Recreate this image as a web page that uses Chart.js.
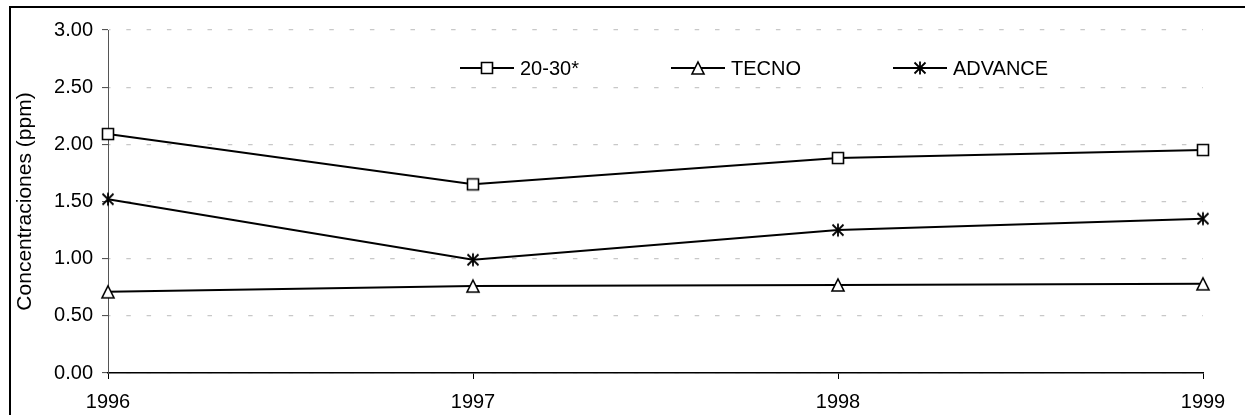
<!DOCTYPE html>
<html>
<head>
<meta charset="utf-8">
<script src="https://cdn.jsdelivr.net/npm/chart.js@4/dist/chart.umd.min.js"></script>
<style>
  html, body { margin: 0; padding: 0; background: #fff; }
  #wrap { position: relative; width: 1245px; height: 415px; overflow: hidden; }
  #frame { position: absolute; left: 9px; top: 6px; width: 1300px; height: 500px;
           border-left: 2px solid #000; border-top: 2px solid #000; pointer-events: none; }
  #legend { position: absolute; left: 460px; top: 57px; display: flex; align-items: center;
            font-family: 'Liberation Sans', Arial, sans-serif; font-size: 20px; color: #000;
            line-height: 22px; white-space: nowrap; }
  #legend .item { display: flex; align-items: center; margin-right: 92px; }
  #legend img { display: block; width: 54px; height: 16px; margin-right: 6px; }
</style>
</head>
<body>
<div id="wrap">
  <canvas id="c" width="1245" height="415"></canvas>
  <div id="legend"></div>
  <div id="frame"></div>
</div>
<script>
// ---- data ----
const years = ['1996', '1997', '1998', '1999'];
const series2030 = [2.09, 1.65, 1.88, 1.95];
const seriesTecno = [0.71, 0.76, 0.77, 0.78];
const seriesAdvance = [1.52, 0.99, 1.25, 1.35];
const seriesNames = ['20-30*', 'TECNO', 'ADVANCE'];
const yTicks = [0, 0.5, 1, 1.5, 2, 2.5, 3];
const yTitle = 'Concentraciones (ppm)';

// ---- marker drawing ----
function drawMarker(ctx, kind, cx, cy) {
  ctx.strokeStyle = '#000';
  ctx.fillStyle = '#fff';
  ctx.lineWidth = 1.6;
  ctx.beginPath();
  if (kind === 'square') {
    ctx.rect(cx - 5.5, cy - 5.5, 11, 11);
    ctx.fill(); ctx.stroke();
  } else if (kind === 'triangle') {
    ctx.moveTo(cx, cy - 6);
    ctx.lineTo(cx + 6, cy + 6);
    ctx.lineTo(cx - 6, cy + 6);
    ctx.closePath();
    ctx.fill(); ctx.stroke();
  } else {
    ctx.lineWidth = 1.8;
    ctx.moveTo(cx - 5.5, cy - 5.5); ctx.lineTo(cx + 5.5, cy + 5.5);
    ctx.moveTo(cx + 5.5, cy - 5.5); ctx.lineTo(cx - 5.5, cy + 5.5);
    ctx.moveTo(cx, cy - 6.5); ctx.lineTo(cx, cy + 6.5);
    ctx.stroke();
  }
}
function markerCanvas(kind) {
  const c = document.createElement('canvas');
  c.width = 16; c.height = 16;
  drawMarker(c.getContext('2d'), kind, 8, 8);
  return c;
}
function legendCanvas(kind) {
  const c = document.createElement('canvas');
  c.width = 54; c.height = 16;
  const ctx = c.getContext('2d');
  ctx.strokeStyle = '#000'; ctx.lineWidth = 2;
  ctx.beginPath(); ctx.moveTo(0, 8); ctx.lineTo(54, 8); ctx.stroke();
  drawMarker(ctx, kind, 27, 8);
  return c;
}
const kinds = ['square', 'triangle', 'star'];
const markers = kinds.map(markerCanvas);
const legendMarks = kinds.map(legendCanvas);

// HTML legend built from the chart's own legend items
const htmlLegend = {
  id: 'htmlLegend',
  afterUpdate(chart) {
    const box = document.getElementById('legend');
    box.innerHTML = '';
    const items = chart.options.plugins.legend.labels.generateLabels(chart);
    items.forEach((it) => {
      const d = document.createElement('div');
      d.className = 'item';
      const img = document.createElement('img');
      img.src = legendMarks[it.datasetIndex].toDataURL();
      const s = document.createElement('span');
      s.textContent = it.text;
      d.appendChild(img); d.appendChild(s);
      box.appendChild(d);
    });
  }
};

const mkDs = (label, data, i) => ({
  label, data,
  borderColor: '#000',
  backgroundColor: '#fff',
  borderWidth: 2,
  tension: 0,
  pointStyle: markers[i],
  pointRadius: 6,
  pointHoverRadius: 6
});

new Chart(document.getElementById('c'), {
  type: 'line',
  data: {
    labels: years,
    datasets: [
      mkDs(seriesNames[0], series2030, 0),
      mkDs(seriesNames[1], seriesTecno, 1),
      mkDs(seriesNames[2], seriesAdvance, 2)
    ]
  },
  options: {
    responsive: false,
    animation: false,
    devicePixelRatio: 1,
    layout: { padding: { top: 30, right: 42, left: 0, bottom: 0 } },
    plugins: {
      tooltip: { enabled: false },
      legend: { display: false }
    },
    scales: {
      x: {
        type: 'category',
        offset: false,
        grid: { drawOnChartArea: false, drawTicks: true, tickLength: 6, tickColor: '#000', tickWidth: 1 },
        border: { display: true, color: '#000', width: 1.5 },
        ticks: {
          font: { family: 'Liberation Sans, Arial, sans-serif', size: 20 },
          color: '#000',
          padding: 11,
          maxRotation: 0,
          autoSkip: false
        },
        afterFit(scale) { scale.height = 42; }
      },
      y: {
        min: 0, max: 3,
        afterBuildTicks(scale) { scale.ticks = yTicks.map(v => ({ value: v })); },
        grid: { color: '#c8c8c8', lineWidth: 1.2, drawTicks: true, tickLength: 6, tickColor: '#444', tickWidth: 1, tickBorderDash: [] },
        border: { display: true, color: '#555', width: 1, dash: [4.5, 15.8], dashOffset: 3 },
        ticks: {
          font: { family: 'Liberation Sans, Arial, sans-serif', size: 20 },
          color: '#000',
          padding: 9,
          callback: v => Number(v).toFixed(2)
        },
        title: {
          display: true,
          text: yTitle,
          font: { family: 'Liberation Sans, Arial, sans-serif', size: 21 },
          color: '#000',
          padding: { top: 13, bottom: 0 }
        },
        afterFit(scale) { scale.width = 108; }
      }
    }
  },
  plugins: [htmlLegend]
});
</script>
</body>
</html>
